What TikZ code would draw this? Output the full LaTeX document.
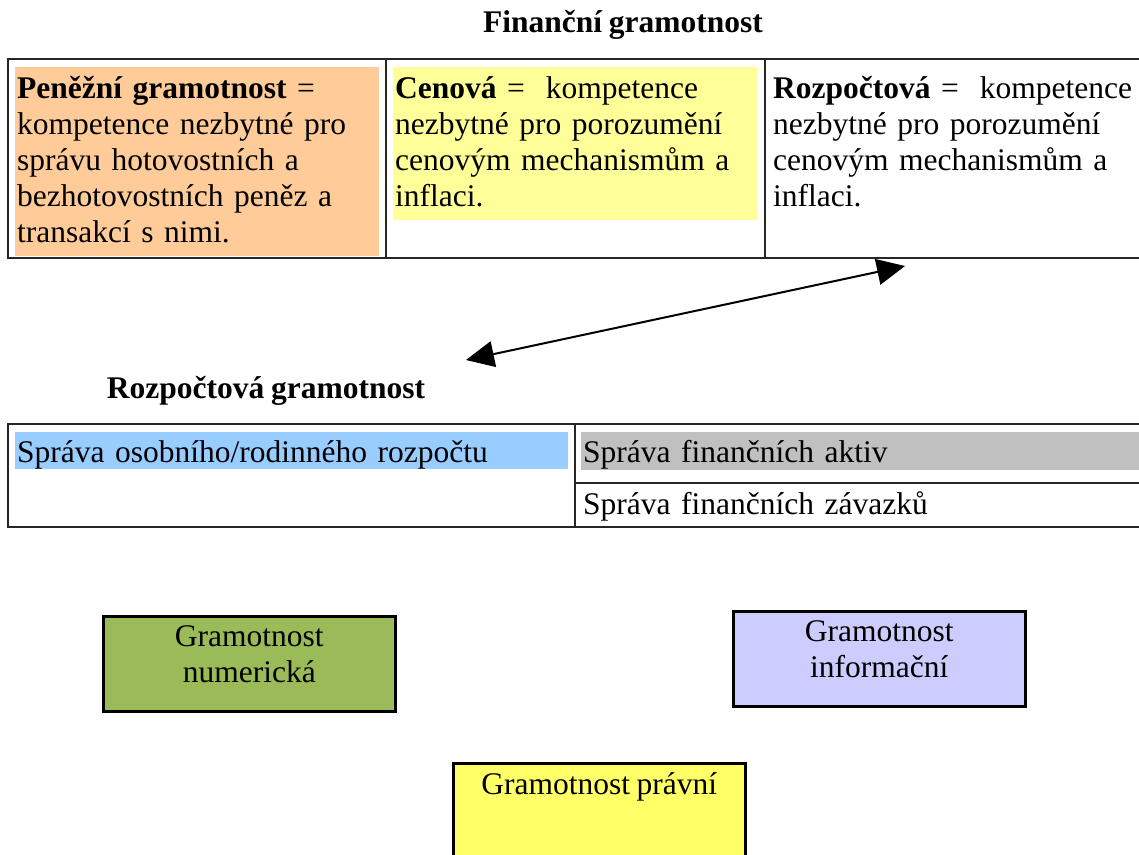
\documentclass[tikz,border=0pt]{standalone}
\usepackage{fontspec}
\setmainfont[WordSpace=0.85]{Liberation Serif}
\usetikzlibrary{arrows.meta}
\pgfdeclarelayer{bg}
\pgfsetlayers{bg,main}
\definecolor{penezni}{HTML}{FFCC99}
\definecolor{cenova}{HTML}{FFFF99}
\definecolor{rozpocet}{HTML}{99CCFF}
\definecolor{aktiva}{HTML}{C0C0C0}
\definecolor{numericka}{HTML}{9BBB59}
\definecolor{informacni}{HTML}{CCCCFF}
\definecolor{pravni}{HTML}{FFFF66}

\begin{document}
\begin{tikzpicture}[x=1pt,y=-1pt,
        txt/.style={font=\fontsize{31.5}{36}\selectfont},
        head/.style={font=\fontsize{31.5}{36}\selectfont\bfseries},
        cell/.style={txt, anchor=north west, align=left, inner xsep=2pt, inner ysep=2pt},
        tab/.style={line width=1.5pt, black!85},
        gbox/.style={draw, line width=2.5pt, anchor=north west, minimum width=292pt, minimum height=95pt},
        boxtxt/.style={txt, align=center, anchor=north, inner ysep=10pt},
        arr/.style={line width=2pt, {Triangle[length=28pt,width=26pt]}-{Triangle[length=28pt,width=26pt]}}]
        \useasboundingbox (0,0) rectangle (1139,854);
        \node (fin) [head] at (623,25) {Finanční gramotnost};
        \node (pen) [cell, fill=penezni, text width=360pt] at (15,67) {\rule{0pt}{29.5pt}\textbf{Peněžní gramotnost} =\\
kompetence nezbytné pro\\správu hotovostních a\\bezhotovostních peněz a\\transakcí s nimi.\strut};
        \node (cen) [cell, fill=cenova, text width=360pt] at (393,67) {\rule{0pt}{29.5pt}\textbf{Cenová} =~ kompetence\\
nezbytné pro porozumění\\cenovým mechanismům a\\inflaci.\strut};
        \node (roz) [cell, text width=360pt] at (771,67) {\rule{0pt}{29.5pt}\textbf{Rozpočtová} =~ kompetence\\
nezbytné pro porozumění\\cenovým mechanismům a\\inflaci.\strut};
        \node (rg) [head] at (266,391) {Rozpočtová gramotnost};
        \node (osob) [cell, fill=rozpocet, text width=549pt, inner ysep=0pt] at (15,432) {\rule[-6pt]{0pt}{36pt}Správa osobního/rodinného rozpočtu};
        \node (akt) [cell, fill=aktiva, text width=560pt, inner ysep=0pt] at (581,432) {\rule[-8pt]{0pt}{38pt}Správa finančních aktiv};
        \node (zav) [cell, text width=560pt, inner ysep=4pt] at (581,485) {\strut Správa finančních závazků};
        \node (num) [gbox, fill=numericka] at (102,615) {};
        \node [boxtxt] at (num.north) {Gramotnost\\numerická};
        \node (inf) [gbox, fill=informacni] at (732,610) {};
        \node [boxtxt] at (inf.north) {Gramotnost\\informační};
        \node (pra) [gbox, fill=pravni, minimum height=110pt] at (452,762) {};
        \node [boxtxt] at (pra.north) {Gramotnost právní};
        \coordinate (a1) at (905,266);
        \coordinate (a2) at (466,360);
        \draw [arr] (a2) -- (a1);
        \begin{pgfonlayer}{bg}
                \draw [tab] (8,59) rectangle (1150,258);
                \draw [tab] (386,59) -- (386,258);
                \draw [tab] (765,59) -- (765,258);
                \draw [tab] (8,424) rectangle (1150,527);
                \draw [tab] (575,424) -- (575,527);
                \draw [tab] (575,483) -- (1150,483);
        \end{pgfonlayer}
\end{tikzpicture}
\end{document}
